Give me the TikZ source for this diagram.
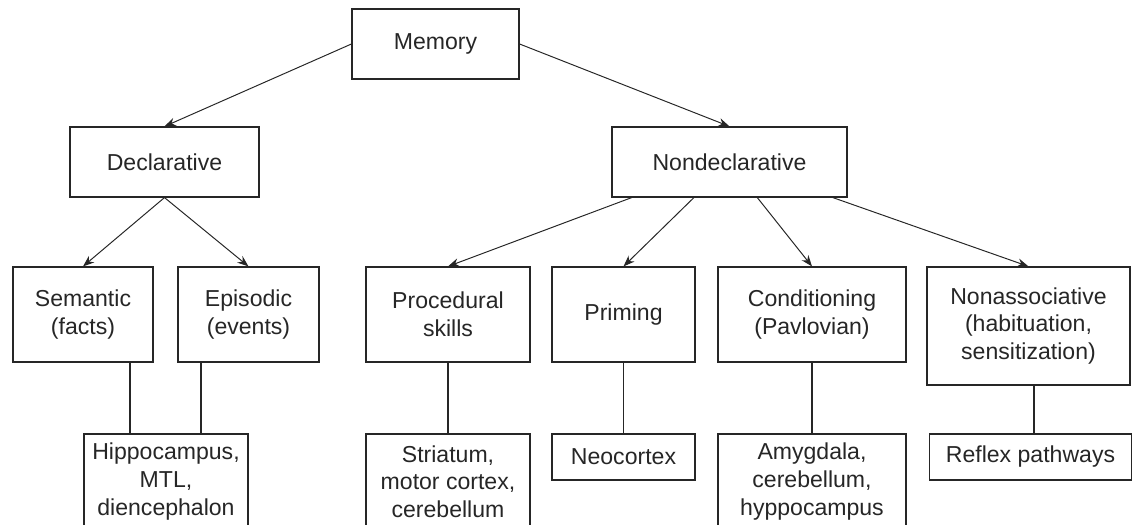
\documentclass[tikz,border=0pt]{standalone}
\usepackage{fontspec}
\setmainfont{Liberation Sans}
\usetikzlibrary{arrows.meta}

\begin{document}
\begin{tikzpicture}[
    x=0.025cm, y=-0.025cm,
    box/.style={rectangle, draw=black!85, line width=0.8pt, align=center, inner sep=2pt, text=black!85, font=\fontsize{16.4}{19.6}\selectfont},
    arr/.style={-{Stealth[length=8pt,width=6pt]}, line width=0.7pt, black!85},
    lnk/.style={line width=0.8pt, black!85}
]
    \useasboundingbox (0,0) rectangle (1132,525);

    % Racine
    \node[box, minimum width=4.175cm, minimum height=1.75cm] (mem) at (435.5,44) {Memory};

    % Deux branches
    \node[box, minimum width=4.725cm, minimum height=1.75cm] (decl) at (164.5,162) {Declarative};
    \node[box, minimum width=5.875cm, minimum height=1.75cm] (nondecl) at (729.5,162) {Nondeclarative};

    % Types de memoire
    \node[box, minimum width=3.5cm, minimum height=2.375cm] (sem) at (83,314.5) {Semantic\\(facts)};
    \node[box, minimum width=3.525cm, minimum height=2.375cm] (epi) at (248.5,314.5) {Episodic\\(events)};
    \node[box, minimum width=4.1cm, minimum height=2.375cm] (proc) at (448,314.5) {Procedural\\skills};
    \node[box, minimum width=3.575cm, minimum height=2.375cm] (prim) at (623.5,314.5) {Priming};
    \node[box, minimum width=4.7cm, minimum height=2.375cm] (cond) at (812,314.5) {Conditioning\\(Pavlovian)};
    \node[box, minimum width=5.075cm, minimum height=2.95cm] (nonass) at (1028.5,326) {Nonassociative\\(habituation,\\sensitization)};

    % Structures cerebrales
    \node[box, minimum width=4.1cm, minimum height=2.375cm] (hip) at (166,481.5) {Hippocampus,\\MTL,\\diencephalon};
    \node[box, minimum width=4.1cm, minimum height=2.375cm] (stri) at (448,481.5) {Striatum,\\motor cortex,\\cerebellum};
    \node[box, minimum width=3.575cm, minimum height=1.15cm] (neo) at (623.5,457) {Neocortex};
    \node[box, minimum width=4.7cm, minimum height=2.375cm] (amyg) at (812,481.5) {Amygdala,\\cerebellum,\\hyppocampus};
    \node[box, minimum width=5.05cm, minimum height=1.15cm] (refl) at (1030.5,457) {Reflex pathways};

    % Fleches
    \draw[arr] (mem.west) -- (decl.north);
    \draw[arr] (mem.east) -- (nondecl.north);
    \draw[arr] (decl.south) -- (sem.north);
    \draw[arr] (decl.south) -- (epi.north);
    \draw[arr] (nondecl.200.6) -- (proc.north);
    \draw[arr] (nondecl.225) -- (prim.north);
    \draw[arr] (nondecl.308.7) -- (cond.north);
    \draw[arr] (nondecl.341.4) -- (nonass.north);

    % Liens
    \draw[lnk] (130,0 |- sem.south) -- (130,0 |- hip.north);
    \draw[lnk] (201,0 |- epi.south) -- (201,0 |- hip.north);
    \draw[lnk] (proc) -- (stri);
    \draw[lnk] (prim) -- (neo);
    \draw[lnk] (cond) -- (amyg);
    \draw[lnk] (1034,0 |- nonass.south) -- (1034,0 |- refl.north);
\end{tikzpicture}
\end{document}
